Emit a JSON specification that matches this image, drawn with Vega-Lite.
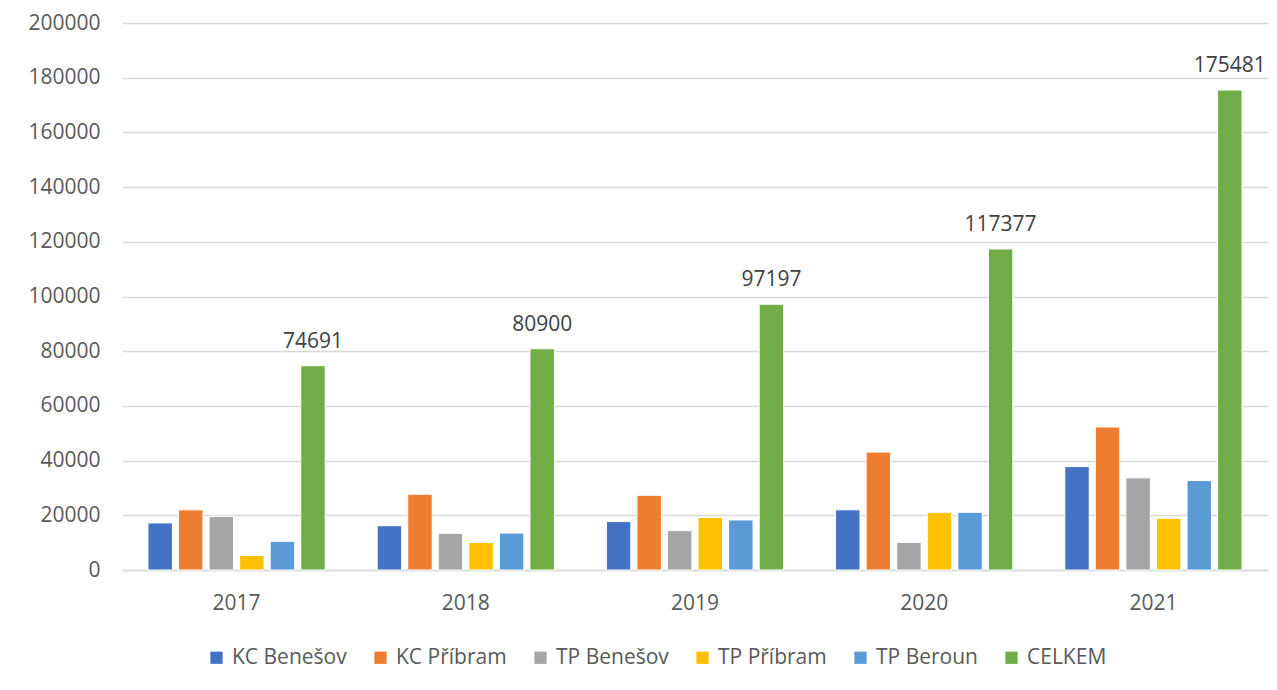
{
  "$schema": "https://vega.github.io/schema/vega-lite/v6.json",
  "autosize": {"type": "none"},
  "width": 1146,
  "height": 547,
  "padding": {"left": 122, "top": 23, "right": 9, "bottom": 120},
  "background": "white",
  "config": {
    "font": "Open Sans",
    "view": {"stroke": null},
    "axis": {"labelFont": "Open Sans", "labelFontSize": 21, "labelColor": "#595959"}
  },
  "data": {
    "values": [
      {"year": "2017", "series": "KC Benešov", "value": 17200},
      {"year": "2017", "series": "KC Příbram", "value": 22000},
      {"year": "2017", "series": "TP Benešov", "value": 19600},
      {"year": "2017", "series": "TP Příbram", "value": 5300},
      {"year": "2017", "series": "TP Beroun", "value": 10500},
      {"year": "2017", "series": "CELKEM", "value": 74691},
      {"year": "2018", "series": "KC Benešov", "value": 16200},
      {"year": "2018", "series": "KC Příbram", "value": 27700},
      {"year": "2018", "series": "TP Benešov", "value": 13400},
      {"year": "2018", "series": "TP Příbram", "value": 10100},
      {"year": "2018", "series": "TP Beroun", "value": 13500},
      {"year": "2018", "series": "CELKEM", "value": 80900},
      {"year": "2019", "series": "KC Benešov", "value": 17700},
      {"year": "2019", "series": "KC Příbram", "value": 27300},
      {"year": "2019", "series": "TP Benešov", "value": 14400},
      {"year": "2019", "series": "TP Příbram", "value": 19200},
      {"year": "2019", "series": "TP Beroun", "value": 18300},
      {"year": "2019", "series": "CELKEM", "value": 97197},
      {"year": "2020", "series": "KC Benešov", "value": 22000},
      {"year": "2020", "series": "KC Příbram", "value": 43100},
      {"year": "2020", "series": "TP Benešov", "value": 10100},
      {"year": "2020", "series": "TP Příbram", "value": 21100},
      {"year": "2020", "series": "TP Beroun", "value": 21100},
      {"year": "2020", "series": "CELKEM", "value": 117377},
      {"year": "2021", "series": "KC Benešov", "value": 37800},
      {"year": "2021", "series": "KC Příbram", "value": 52300},
      {"year": "2021", "series": "TP Benešov", "value": 33700},
      {"year": "2021", "series": "TP Příbram", "value": 18900},
      {"year": "2021", "series": "TP Beroun", "value": 32700},
      {"year": "2021", "series": "CELKEM", "value": 175481}
    ]
  },
  "encoding": {
    "x": {
      "field": "year", "type": "nominal",
      "scale": {"paddingInner": 0, "paddingOuter": 0},
      "axis": {"title": null, "labelAngle": 0, "ticks": false, "labelPadding": 22, "domainColor": "#d9d9d9", "domainWidth": 1.5, "grid": false}
    },
    "xOffset": {
      "field": "series", "type": "nominal",
      "sort": ["KC Benešov", "KC Příbram", "TP Benešov", "TP Příbram", "TP Beroun", "CELKEM"],
      "scale": {"paddingInner": 0.2, "paddingOuter": 0.85}
    },
    "y": {
      "field": "value", "type": "quantitative",
      "scale": {"domain": [0, 200000], "nice": false},
      "axis": {"title": null, "values": [0,20000,40000,60000,80000,100000,120000,140000,160000,180000,200000], "format": "d", "labelOverlap": false, "domain": false, "ticks": false, "labelPadding": 22, "gridColor": "#d9d9d9", "gridWidth": 1.5}
    }
  },
  "layer": [
    {
      "mark": {"type": "bar", "stroke": "white", "strokeWidth": 1},
      "encoding": {
        "color": {
          "field": "series", "type": "nominal",
          "scale": {
            "domain": ["KC Benešov", "KC Příbram", "TP Benešov", "TP Příbram", "TP Beroun", "CELKEM"],
            "range": ["#4472C4", "#ED7D31", "#A5A5A5", "#FFC000", "#5B9BD5", "#70AD47"]
          },
          "legend": {
            "title": null, "orient": "none", "direction": "horizontal", "legendX": 84, "legendY": 624,
            "symbolType": "square", "symbolSize": 150, "symbolStrokeWidth": 0,
            "labelFont": "Open Sans", "labelFontSize": 21, "labelColor": "#595959",
            "labelOffset": 5, "columnPadding": 23
          }
        }
      }
    },
    {
      "transform": [{"filter": "datum.series === 'CELKEM'"}],
      "mark": {"type": "text", "baseline": "bottom", "dy": -14, "fontSize": 21, "color": "#404040", "font": "Open Sans"},
      "encoding": {
        "text": {"field": "value", "type": "quantitative", "format": "d"}
      }
    }
  ]
}
